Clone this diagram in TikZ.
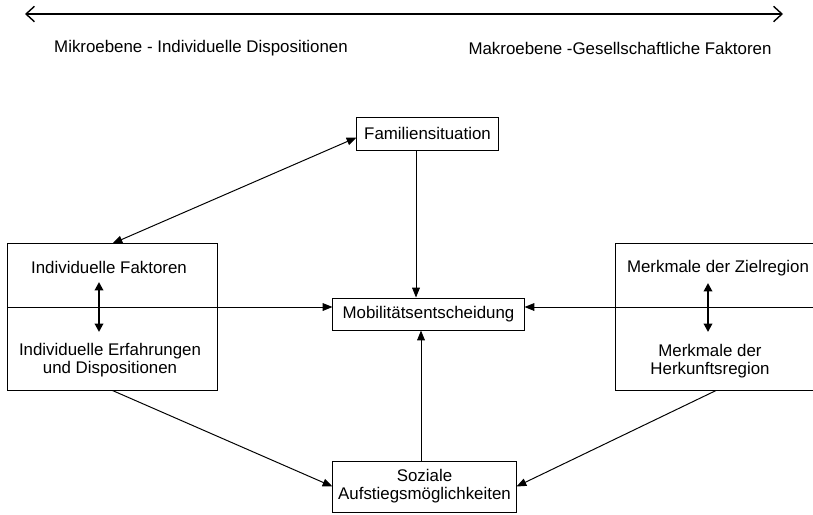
\documentclass[tikz,border=0pt]{standalone}
\usepackage{fontspec}
\setmainfont{Liberation Sans}
\usepackage{tikz}
\usepackage{xcolor}
\usetikzlibrary{arrows.meta, positioning, calc}
\tikzstyle{box} = [rectangle, draw, line width=0.7pt, inner sep=0pt, text centered, align=center]
\tikzstyle{label} = [inner sep=0pt, align=center]
\tikzstyle{arrow} = [-{Triangle[length=7pt, width=5.5pt]}, line width=0.7pt]
\tikzstyle{dblarrow} = [{Triangle[length=7pt, width=5.5pt]}-{Triangle[length=7pt, width=5.5pt]}, line width=0.7pt]
\tikzstyle{thickdbl} = [{Triangle[length=6pt, width=6pt]}-{Triangle[length=6pt, width=6pt]}, line width=1.4pt]
\tikzstyle{scalearrow} = [{Straight Barb[length=6pt, width=11pt]}-{Straight Barb[length=6pt, width=11pt]}, line width=1pt]

\begin{document}
\begin{tikzpicture}[x=0.025cm, y=-0.025cm, font=\fontsize{12}{12.8}\selectfont]
    \clip (0,0) rectangle (813,514);
    \fill[white] (0,0) rectangle (813,514);

    % Scale micro - macro
    \coordinate (micro) at (25,14);
    \coordinate (macro) at (783,14);
    \draw[scalearrow] (micro) -- (macro);
    \node[label] (mikro) at (201,48) {Mikroebene - Individuelle Dispositionen};
    \node[label] (makro) at (620,48) {Makroebene -Gesellschaftliche Faktoren};

    % Central column
    \node[box, minimum width=3.525cm, minimum height=0.825cm] (fam) at (427.5,133.5) {Familiensituation};
    \node[box, minimum width=4.775cm, minimum height=0.8cm] (mob) at (428.5,314) {Mobilitätsentscheidung};
    \node[box, minimum width=4.575cm, minimum height=1.275cm] (soz) at (424.5,486.5) {Soziale\\Aufstiegsmöglichkeiten};

    % Individual side
    \node[box, minimum width=5.225cm, minimum height=3.65cm] (indiv) at (112.5,317) {};
    \node[label] (faktoren) at (109,267) {Individuelle Faktoren};
    \node[label] (erfahrung) at (110,360) {Individuelle Erfahrungen\\und Dispositionen};
    \coordinate (indtop) at (99,282);
    \coordinate (indbot) at (99,332);
    \draw[thickdbl] (indtop) -- (indbot);

    % Regional side
    \node[box, minimum width=5cm, minimum height=3.65cm] (region) at (716,317) {};
    \node[label] (ziel) at (718,268) {Merkmale der Zielregion};
    \node[label] (herkunft) at (710,361) {Merkmale der\\Herkunftsregion};
    \coordinate (regtop) at (708,283);
    \coordinate (regbot) at (708,332);
    \draw[thickdbl] (regtop) -- (regbot);

    % Connectors
    \coordinate (midline) at (0,307);
    \coordinate (famx) at (416,0);
    \coordinate (sozx) at (421,0);
    \draw[dblarrow] (indiv.north) -- ($(fam.west)+(0,4)$);
    \draw[arrow] (fam.south -| famx) -- (mob.north -| famx);
    \draw[arrow] (soz.north -| sozx) -- (mob.south -| sozx);
    \draw[arrow] (indiv.west |- midline) -- (mob.west |- midline);
    \draw[arrow] (region.east |- midline) -- (mob.east |- midline);
    \draw[arrow] (indiv.south) -- (soz.west);
    \draw[arrow] (region.south) -- (soz.east);
\end{tikzpicture}
\end{document}
